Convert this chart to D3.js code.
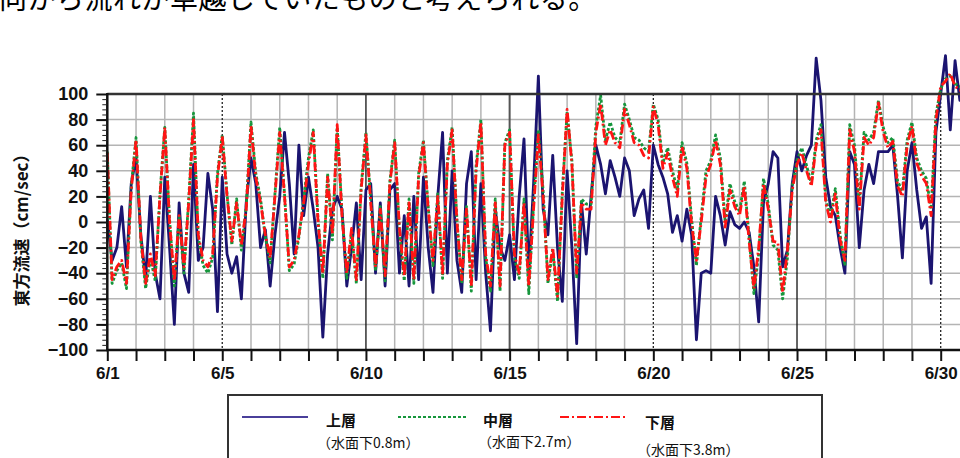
<!DOCTYPE html>
<html>
<head>
<meta charset="utf-8">
<script src="https://cdn.jsdelivr.net/npm/d3@7"></script>
<style>
body { margin: 0; background: white; }
text { font-family: "Liberation Sans", Arial, sans-serif; }
.jp { font-family: "Noto Sans CJK JP", sans-serif; }
</style>
</head>
<body>
<svg id="chart" width="960" height="458"></svg>
<script>
// one value every 4 hours from 6/1 00:00, one row per day
const stepHours = 4;

const upper = [
    2, -30, -20, 12, -35, 30,
    50, -10, -45, 20, -40, -60,
    35, -20, -80, 15, -40, -55,
    45, -30, -20, 38, 10, -70,
    35, -25, -40, -27, -60, 15,
    50, 30, -20, -6, -50, -10,
    20, 70, 30, -25, 60, 5,
    35, 10, -20, -90, -25, 10,
    20, 10, -50, -20, 15, -45,
    25, 30, -40, 15, -50, 25,
    30, -40, 5, -50, 20, -45,
    35, -20, -55, 20, 70, -40,
    40, -30, -55, 30, 55, -45,
    30, -40, -85, 10, -20, -30,
    -10, -45, 20, 65, -40, 30,
    114, 10, -10, 52, -20, -62,
    40, -20, -95, 15, -25, 20,
    60, 45, 22, 48, 35, 20,
    50, 40, 5, 18, 25, -5,
    60, 45, 35, 22, -8, 5,
    -15, 10, -10, -92, -40, -38,
    -40, 20, 5, -18, 8, -2,
    -5, 0, -8, -35, -78, 15,
    30, 55, 50, -35, -22, 30,
    55, 40, 52, 60, 128, 95,
    35, 12, 5, -20, -40, 55,
    45, -20, 25, 45, 30, 55,
    55, 55, 60, 20, -28, 40,
    62, 25, -5, 4, -48, 70,
    100, 130, 72, 126, 95, 100
];

const middle = [
    55, -48, -38, -32, -52, 28,
    66, -15, -52, -28, -46, 22,
    74, 2, -50, 4, -40, 18,
    85, -12, -34, -40, -28, 38,
    68, 22, -18, 18, -22, 12,
    78, 38, 18, -12, -32, 22,
    74, 22, -38, -33, -12, 18,
    50, 72, 2, -44, 38, -14,
    74, 8, -44, -8, -48, 28,
    70, 18, -38, 12, -46, 32,
    64, -8, -46, 18, -48, 38,
    64, 12, -34, 22, -44, 48,
    74, 2, -48, 12, -54, 44,
    80, -28, -54, 18, -54, 62,
    72, -28, -44, 18, -56, 14,
    72, 24, -48, -22, -62, 24,
    86, 48, -44, 18, 14, 14,
    75, 99, 64, 78, 66, 62,
    92, 80, 66, 64, 58, 55,
    92, 80, 46, 58, 40, 25,
    62, 46, 2, -34, 4, 40,
    48, 68, 50, 0, 30, 16,
    8, 32, -12, -56, -25, 34,
    14, -18, -22, -60, -28, 28,
    48, 58, 44, 30, 64, 76,
    18, 4, 26, -10, -34, 76,
    60, 14, 70, 64, 70, 95,
    74, 62, 66, 32, 24, 64,
    78, 50, 40, 34, 10, 84,
    104, 112, 114, 108, 106, 108
];

const lower = [
    54, -45, -35, -30, -48, 25,
    64, -12, -48, -25, -42, 20,
    74, 0, -46, 5, -35, 15,
    80, -10, -30, -35, -25, 35,
    67, 20, -15, 15, -18, 10,
    75, 35, 15, -10, -28, 20,
    70, 20, -35, -30, -10, 15,
    45, 70, 0, -40, 35, -10,
    76, 5, -40, -5, -45, 25,
    68, 15, -35, 10, -42, 30,
    62, -5, -42, 15, -45, 35,
    62, 10, -30, 20, -40, 45,
    72, 0, -45, 10, -50, 40,
    78, -25, -50, 15, -50, 60,
    70, -25, -40, 15, -50, 10,
    68, 20, -45, -20, -58, 20,
    88, 45, -40, 15, 10, 10,
    70, 92, 60, 72, 62, 58,
    88, 76, 62, 60, 52, 50,
    90, 76, 42, 54, 35, 20,
    59, 42, -2, -30, 0, 35,
    45, 64, 45, -4, 25, 12,
    5, 28, -15, -52, -20, 30,
    10, -15, -16, -55, -22, 25,
    45, 54, 40, 28, 60, 72,
    15, 0, 22, -14, -30, 72,
    55, 10, 66, 60, 66, 93,
    70, 58, 63, 28, 20, 60,
    75, 46, 36, 30, 5, 80,
    106, 110, 116, 106, 103, 105
];

const yTicks = [-100, -80, -60, -40, -20, 0, 20, 40, 60, 80, 100];
const labelDays = [1, 5, 10, 15, 20, 25, 30];
const labelTexts = ["6/1", "6/5", "6/10", "6/15", "6/20", "6/25", "6/30"];
const solidDays = [10, 15, 25];
const dashedDays = [5, 20, 30];
const legendNames = ["上層", "中層", "下層"];
const legendDepths = ["（水面下0.8m）", "（水面下2.7m）", "（水面下3.8m）"];

const svg = d3.select("#chart");

const x = d3.scaleLinear().domain([1, 30]).range([107.3, 940.7]);
const y = d3.scaleLinear().domain([-100, 100]).range([350, 94]);
const right = 960;

// heading text cut off by the top of the page
svg.append("text")
    .attr("class", "jp")
    .attr("x", -1)
    .attr("y", 9)
    .style("font-size", "28px")
    .style("letter-spacing", "0.5px")
    .style("fill", "black")
    .text("向から流れが卓越していたものと考えられる。");

// grid
const grid = svg.append("g");
grid.selectAll(".hgrid")
    .data(yTicks.filter(v => v > -100 && v < 100))
    .enter().append("line")
    .attr("x1", x(1)).attr("x2", right)
    .attr("y1", d => y(d)).attr("y2", d => y(d))
    .style("stroke", "#b4b4b4")
    .style("stroke-width", "1.5px");

const allDays = d3.range(2, 32).filter(d => x(d) < right);
grid.selectAll(".vgrid")
    .data(allDays.filter(d => !solidDays.includes(d) && !dashedDays.includes(d)))
    .enter().append("line")
    .attr("x1", d => x(d)).attr("x2", d => x(d))
    .attr("y1", y(100)).attr("y2", y(-100))
    .style("stroke", "#b4b4b4")
    .style("stroke-width", "1.5px");

grid.selectAll(".solid")
    .data(solidDays)
    .enter().append("line")
    .attr("x1", d => x(d)).attr("x2", d => x(d))
    .attr("y1", y(100)).attr("y2", y(-100))
    .style("stroke", d => d === 15 ? "#555" : "#111")
    .style("stroke-width", d => d === 15 ? "2px" : "1.3px");

grid.selectAll(".dashed")
    .data(dashedDays)
    .enter().append("line")
    .attr("x1", d => x(d)).attr("x2", d => x(d))
    .attr("y1", y(100)).attr("y2", y(-100))
    .style("stroke", "#222")
    .style("stroke-width", "1.3px")
    .style("stroke-dasharray", "2,2");

// series
const line = d3.line()
    .x((d, i) => x(1 + i * stepHours / 24))
    .y(d => y(d));

const series = [
    { values: upper, color: "#1b1470", dash: null },
    { values: middle, color: "#16963c", dash: "3,2" },
    { values: lower, color: "#ff1414", dash: "9,3,2,3" }
];

svg.append("g")
    .selectAll("path")
    .data(series)
    .enter().append("path")
    .attr("d", d => line(d.values))
    .style("fill", "none")
    .style("stroke", d => d.color)
    .style("stroke-width", "2.8px")
    .style("stroke-linejoin", "round")
    .style("stroke-dasharray", d => d.dash);

// frame
svg.append("line")
    .attr("x1", x(1)).attr("x2", right)
    .attr("y1", y(100)).attr("y2", y(100))
    .style("stroke", "#333").style("stroke-width", "2.5px");
svg.append("line")
    .attr("x1", x(1) - 1).attr("x2", right)
    .attr("y1", y(-100)).attr("y2", y(-100))
    .style("stroke", "#111").style("stroke-width", "2.5px");
svg.append("line")
    .attr("x1", x(1)).attr("x2", x(1))
    .attr("y1", y(100) - 1).attr("y2", y(-100) + 1)
    .style("stroke", "#111").style("stroke-width", "2.5px");

// y axis
const yMinor = svg.append("g")
    .attr("transform", `translate(${x(1)} 0)`)
    .call(d3.axisLeft(y).tickValues(d3.range(-100, 101, 4)).tickSize(5).tickFormat(""));
yMinor.select(".domain").remove();
yMinor.selectAll("line").style("stroke", "#222").style("stroke-width", "1px");

const yAxis = svg.append("g")
    .attr("transform", `translate(${x(1)} 0)`)
    .call(d3.axisLeft(y).tickValues(yTicks).tickSize(11).tickPadding(8));
yAxis.select(".domain").remove();
yAxis.selectAll("line").style("stroke", "#111").style("stroke-width", "2px");
yAxis.selectAll("text")
    .style("font-size", "18px")
    .style("font-weight", "bold")
    .style("fill", "#111");

// x axis
const xAxis = svg.append("g")
    .attr("transform", `translate(0 ${y(-100)})`)
    .call(d3.axisBottom(x)
        .tickValues(allDays.concat([1]))
        .tickSize(11)
        .tickPadding(6)
        .tickFormat(d => labelDays.includes(d) ? labelTexts[labelDays.indexOf(d)] : ""));
xAxis.select(".domain").remove();
xAxis.selectAll("line").style("stroke", "#111").style("stroke-width", "2px");
xAxis.selectAll("text")
    .style("font-size", "17px")
    .style("font-weight", "bold")
    .style("fill", "#111");

// y title
svg.append("text")
    .attr("class", "jp")
    .attr("transform", "translate(28 226) rotate(-90)")
    .attr("text-anchor", "middle")
    .style("font-size", "17px")
    .style("font-weight", "bold")
    .style("fill", "#111")
    .text("東方流速（cm/sec）");

// legend
const legend = svg.append("g");
legend.append("rect")
    .attr("x", 228).attr("y", 395)
    .attr("width", 594).attr("height", 90)
    .style("fill", "white")
    .style("stroke", "#333")
    .style("stroke-width", "2px");

const legendLayout = [
    { x1: 242, x2: 308, nx: 326, ny: 426, dx: 317, dy: 448 },
    { x1: 398, x2: 467, nx: 483, ny: 426, dx: 478, dy: 447 },
    { x1: 560, x2: 628, nx: 645, ny: 428, dx: 637, dy: 455 }
];

const items = legend.selectAll(".item")
    .data(series)
    .enter().append("g")
    .attr("class", "item");

items.append("line")
    .attr("x1", (d, i) => legendLayout[i].x1)
    .attr("x2", (d, i) => legendLayout[i].x2)
    .attr("y1", 417).attr("y2", 417)
    .style("stroke", (d, i) => i === 0 ? "#4a3f9a" : d.color)
    .style("stroke-width", "2.2px")
    .style("stroke-dasharray", d => d.dash);

items.append("text")
    .attr("class", "jp")
    .attr("x", (d, i) => legendLayout[i].nx)
    .attr("y", (d, i) => legendLayout[i].ny)
    .style("font-size", "15px")
    .style("font-weight", "bold")
    .style("fill", "#111")
    .text((d, i) => legendNames[i]);

items.append("text")
    .attr("class", "jp")
    .attr("x", (d, i) => legendLayout[i].dx)
    .attr("y", (d, i) => legendLayout[i].dy)
    .style("font-size", "14px")
    .style("fill", "#111")
    .text((d, i) => legendDepths[i]);
</script>
</body>
</html>
